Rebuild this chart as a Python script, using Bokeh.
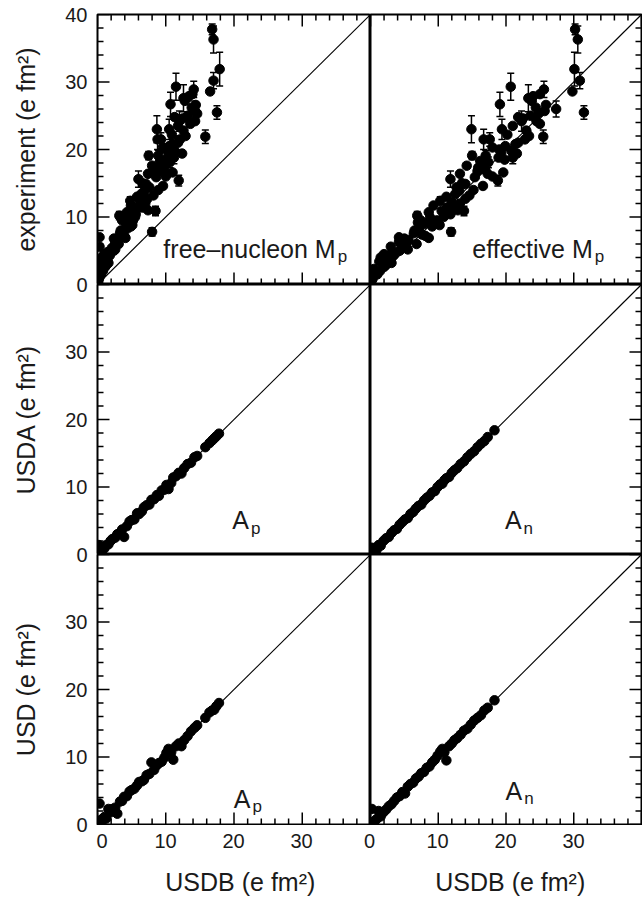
import math
from bokeh.plotting import figure
from bokeh.layouts import row, column
from bokeh.models import (Range1d, LinearAxis, FixedTicker, Label, Whisker,
                          ColumnDataSource, TeeHead)
from bokeh.embed import file_html
from bokeh.resources import INLINE

# ---------------- data ----------------
exp_val = [0.3, 0.8, 1.1, 1.5, 1.7, 2.0, 2.3, 2.6, 2.9, 3.2, 3.4, 3.8, 4.0, 4.3, 4.8, 5.0, 5.4,
           7.0, 5.6, 5.9, 6.3, 6.6, 6.9, 7.2, 7.6, 7.8, 8.0, 8.3, 8.6, 9.0, 9.5, 9.5, 9.9,
           10.2, 10.4, 10.7, 10.9, 10.9, 11.4, 11.4, 11.7, 12.2, 12.4, 12.7, 13.0, 13.4, 13.9,
           14.4, 14.9, 15.0, 15.4, 15.6, 15.9, 16.4, 16.4, 16.8, 17.3, 17.6, 17.6, 18.1, 18.3,
           18.8, 18.8, 19.1, 19.1, 19.5, 19.8, 20.3, 20.5, 21.0, 21.5, 21.5, 21.5, 21.9, 22.2,
           22.8, 23.0, 23.0, 23.5, 24.2, 24.2, 24.6, 25.0, 25.5, 25.7, 26.0, 26.2, 26.7, 27.2,
           27.6, 27.9, 28.2, 28.6, 28.9, 29.3, 30.2, 31.9, 36.3, 37.8,
           4.5, 5.2, 6.0, 6.8, 7.4, 8.8, 9.2, 10.0, 11.0, 12.0, 13.2, 14.0, 14.6,
           16.0, 16.6, 17.0, 18.5, 19.4, 20.0, 20.8, 22.0, 23.8, 24.8, 25.3, 26.6]
exp_err = [0, 0, 0, 0, 0, 0, 0, 0, 0, 0, 0, 0, 0, 0, 0, 0, 0,
           0, 0, 0, 0, 0, 0, 0, 0, 0.6, 0, 0, 0, 0, 0, 0, 0,
           0.6, 0, 0, 0.7, 0, 0, 0, 0, 0, 0.6, 0, 0, 0, 0,
           0, 0, 0.5, 0.8, 1.2, 0, 0, 0, 0, 0, 0, 0, 0.8, 0,
           0.9, 0, 0.6, 0.8, 0, 0, 0, 0, 0, 1.5, 1.0, 0, 1.0, 0,
           0, 2.0, 1.5, 0, 1.5, 0, 0, 0, 1.0, 0, 1.2, 0, 1.8, 0,
           2.0, 0, 0, 0, 1.2, 2.0, 1.2, 2.5, 2.0, 0.8,
           0, 0, 0, 0, 0, 0, 0, 0, 0, 0, 0, 0, 0,
           0, 0, 0, 0, 0, 0, 0, 0, 0, 0, 0, 0]
usdb_eff = [0.1, 0.3, 0.2, 1.0, 0.6, 1.4, 0.5, 2.0, 2.3, 3.1, 1.3, 2.7, 1.5, 3.4, 3.2, 4.3, 4.6,
            4.2, 3.0, 5.2, 4.2, 5.6, 8.6, 8.1, 6.4, 11.9, 6.5, 7.2, 9.1, 8.0, 7.4, 9.8, 8.8,
            6.9, 11.8, 8.6, 13.8, 10.5, 11.3, 12.3, 9.3, 12.0, 10.3, 14.0, 11.2, 12.5, 13.1,
            12.7, 14.0, 13.5, 18.8, 11.8, 15.4, 13.2, 17.3, 15.8, 15.9, 14.2, 16.5, 17.4, 16.2,
            21.0, 18.9, 15.0, 17.0, 19.3, 20.8, 18.0, 19.9, 21.8, 16.7, 17.6, 22.8, 25.5, 20.2,
            23.0, 14.9, 19.4, 21.0, 22.3, 24.5, 22.5, 23.6, 31.5, 25.7, 27.4, 24.4, 19.1, 23.8,
            23.3, 24.0, 25.0, 29.8, 25.6, 20.7, 30.9, 30.1, 30.6, 30.2,
            2.0, 5.5, 6.8, 5.0, 7.6, 10.2, 7.0, 10.8, 12.9, 13.2, 14.6, 15.2, 16.6,
            18.0, 19.6, 16.9, 19.8, 21.6, 19.0, 21.4, 23.4, 25.0, 21.8, 24.8, 25.9]
usdb_free = [0.1, 0.2, 0.3, 0.5, 0.2, 0.8, 0.1, 1.1, 1.3, 1.6, 0.4, 1.2, 0.6, 1.8, 1.5, 2.4, 2.1,
             0.3, 0.3, 2.8, 2.6, 3.0, 4.1, 3.9, 3.3, 8.0, 3.4, 4.4, 4.9, 4.2, 3.6, 5.2, 4.6,
             3.2, 5.6, 4.3, 8.5, 5.4, 6.0, 6.6, 4.9, 6.2, 4.8, 7.3, 5.8, 6.4, 6.9,
             7.6, 7.1, 6.6, 11.9, 6.0, 8.6, 7.4, 10.2, 9.4, 9.0, 8.0, 9.9, 10.6, 9.2,
             11.2, 10.3, 7.5, 8.9, 10.9, 11.3, 9.6, 10.5, 11.8, 8.8, 9.3, 12.1, 15.8, 10.9,
             12.6, 8.7, 10.5, 11.8, 12.0, 14.3, 12.5, 13.2, 17.5, 14.3, 14.0, 13.8, 10.7, 12.8,
             12.6, 13.4, 13.9, 16.5, 14.1, 11.5, 17.0, 17.9, 17.0, 16.8,
             1.0, 2.6, 3.1, 2.4, 3.6, 5.1, 4.8, 5.5, 7.4, 7.0, 8.2, 8.9, 9.6,
             10.0, 11.0, 8.4, 10.1, 12.4, 9.9, 11.0, 12.9, 13.6, 11.3, 14.6, 14.4]

usdb_ap = [0.1, 0.2, 0.3, 0.4, 0.6, 0.8, 1.0, 1.3, 1.6, 1.9, 2.2, 2.6, 2.9, 3.3, 3.6, 3.9, 4.3,
           4.7, 5.0, 5.4, 5.8, 6.1, 6.5, 6.8, 7.2, 7.6, 7.9, 8.3, 8.7, 9.0, 9.4, 9.8, 10.1,
           10.4, 10.8, 11.1, 11.5, 11.9, 12.3, 12.7, 13.2, 13.7, 14.2, 14.6, 15.8, 16.4, 16.8,
           17.1, 17.4, 17.8]
usda_ap = [0.0, 1.4, 0.3, 1.2, 0.5, 1.0, 0.9, 1.4, 1.5, 2.0, 2.3, 2.5, 3.0, 3.2, 3.7, 2.6, 4.2,
           4.9, 5.1, 5.2, 6.1, 6.0, 6.4, 7.0, 7.3, 7.4, 8.1, 8.2, 8.8, 8.7, 9.5, 9.6, 10.3,
           9.7, 10.6, 11.4, 11.6, 12.1, 12.0, 12.8, 13.4, 13.6, 14.4, 14.6, 15.9, 16.5, 16.9,
           17.2, 17.5, 17.9]
usd_ap = [0.2, 0.0, 3.1, 0.6, 0.4, 0.9, 1.1, 0.9, 2.3, 1.8, 2.3, 2.5, 1.6, 3.4, 3.5, 4.1, 4.2,
          4.9, 5.1, 5.3, 5.8, 6.3, 6.4, 6.6, 7.3, 7.5, 9.2, 8.1, 8.8, 9.1, 9.3, 9.9, 10.6,
          11.2, 10.7, 9.6, 11.6, 12.0, 11.6, 12.5, 13.1, 13.8, 14.3, 14.7, 15.8, 16.6, 16.9,
          17.0, 17.5, 18.0]

usdb_an = [0.1, 0.2, 0.4, 0.6, 0.9, 1.2, 1.5, 1.9, 2.3, 2.7, 3.1, 3.5, 3.9, 4.3, 4.7, 5.1,
           5.5, 5.9, 6.3, 6.7, 7.1, 7.5, 7.9, 8.3, 8.7, 9.1, 9.5, 9.9, 10.3, 10.6, 10.9, 11.2,
           11.6, 12.0, 12.4, 12.8, 13.3, 13.8, 14.3, 14.8, 15.3, 15.8, 16.3, 16.8, 17.3, 18.3]
usda_an = [0.0, 1.0, 0.6, 0.9, 0.7, 1.4, 1.3, 2.0, 2.4, 2.6, 3.2, 3.6, 3.8, 4.4, 4.8, 5.2,
           5.4, 6.0, 6.3, 6.8, 7.2, 7.4, 8.0, 8.4, 8.7, 9.2, 9.4, 10.0, 10.4, 10.5, 11.0, 11.3,
           11.5, 12.1, 12.5, 12.8, 13.4, 13.8, 14.4, 14.9, 15.3, 15.9, 16.4, 16.8, 17.4, 18.4]
usd_an = [0.0, 2.3, 0.3, 0.5, 0.8, 2.0, 1.2, 1.8, 2.2, 2.7, 3.0, 3.5, 4.0, 4.2, 4.8, 4.6,
          5.6, 6.0, 6.2, 6.8, 7.1, 7.6, 7.8, 8.4, 8.6, 9.2, 9.6, 10.2, 10.8, 11.2, 10.7, 9.5,
          11.6, 12.0, 12.5, 12.8, 13.3, 13.9, 14.2, 14.8, 15.4, 15.8, 16.2, 16.9, 17.3, 18.4]

diag = [0, 40]
major_ticks = [0, 10, 20, 30, 40]
minor_ticks = [2, 4, 6, 8, 12, 14, 16, 18, 22, 24, 26, 28, 32, 34, 36, 38]

# tick labels of the three stacked panels (left) and two side-by-side panels (bottom)
y_tick_labels_top = ["0", "10", "20", "30", "40"]
y_tick_labels_low = ["0", "10", "20", "30"]
x_tick_labels = ["0", "10", "20", "30"]

y_titles = ["experiment (e fm²)", "USDA (e fm²)", "USD (e fm²)"]
x_title = "USDB (e fm²)"

FONT = "Liberation Sans"
TXT = "#1a1a1a"
LW_FRAME = 2

# ---------------- layout sizes (page has no margin) ----------------
T_W = 50            # strip holding the y titles
L_W = 46            # strip holding the y tick labels
TOP_B = 14
FRAME_H = 270
LEFT_FW = 273
RIGHT_FW = 271
B_H = 38            # strip holding the x tick labels
BT_H = 40           # strip holding the x titles
PAGE_H = TOP_B + 3 * FRAME_H + 1 + B_H + BT_H
BOT_B = 1 + B_H + BT_H


def make_panel(col, r):
    fw = LEFT_FW if col == 0 else RIGHT_FW
    mbl = 1 if col == 0 else 0
    mbr = 1 if col == 1 else 0
    mbt = TOP_B if r == 0 else 0
    mbb = 1 if r == 2 else 0
    p = figure(width=fw + mbl + mbr, height=FRAME_H + mbt + mbb,
               x_range=Range1d(0, 40), y_range=Range1d(0, 40),
               x_axis_type=None, y_axis_type=None,
               output_backend="svg", toolbar_location=None,
               min_border_left=mbl, min_border_right=mbr,
               min_border_top=mbt, min_border_bottom=mbb)
    p.outline_line_color = "black"
    p.outline_line_width = LW_FRAME
    p.background_fill_color = "white"
    p.border_fill_color = "white"
    p.line(diag, diag, line_color="black", line_width=1.2)
    return p


def add_ticks(p, side):
    for tv, ln in ((major_ticks, 12), (minor_ticks, 6)):
        n = len(tv)
        if side == "left":
            xs, ys, ang = [0] * n, tv, 0.0
        elif side == "right":
            xs, ys, ang = [40] * n, tv, math.pi
        elif side == "below":
            xs, ys, ang = tv, [0] * n, math.pi / 2
        else:
            xs, ys, ang = tv, [40] * n, -math.pi / 2
        p.ray(x=xs, y=ys, length=ln, angle=ang, length_units="screen",
              line_color="black", line_width=1.5)


def add_label(p, x, y, main, sub):
    p.add_layout(Label(x=x, y=y, text=main, text_align="right",
                       text_baseline="alphabetic", text_font=FONT,
                       text_font_size="25px", text_color=TXT))
    p.add_layout(Label(x=x, y=y, text=sub, text_align="left",
                       text_baseline="alphabetic", text_font=FONT,
                       text_font_size="17px", text_color=TXT,
                       x_offset=2, y_offset=-8))


def add_exp(p, xs):
    xe = [x for x, e in zip(xs, exp_err) if e > 0]
    up = [v + e for v, e in zip(exp_val, exp_err) if e > 0]
    lo = [v - e for v, e in zip(exp_val, exp_err) if e > 0]
    src = ColumnDataSource(dict(x=xe, upper=up, lower=lo))
    w = Whisker(source=src, base="x", upper="upper", lower="lower",
                dimension="height", line_color="black", line_width=1.5,
                upper_head=TeeHead(size=7, line_color="black", line_width=1.5),
                lower_head=TeeHead(size=7, line_color="black", line_width=1.5))
    p.add_layout(w)
    p.scatter(xs, exp_val, size=9.5, color="black")


def style_label_axis(ax):
    ax.major_tick_in = 0
    ax.major_tick_out = 0
    ax.minor_tick_in = 0
    ax.minor_tick_out = 0
    ax.axis_line_color = None
    ax.major_label_text_font = FONT
    ax.major_label_text_font_size = "20px"
    ax.major_label_text_color = TXT


def strip(width, height, xr, yr, mbl, mbr, mbt, mbb):
    f = figure(width=width, height=height, x_range=xr, y_range=yr,
               x_axis_type=None, y_axis_type=None,
               output_backend="svg", toolbar_location=None,
               min_border_left=mbl, min_border_right=mbr,
               min_border_top=mbt, min_border_bottom=mbb)
    f.outline_line_color = None
    return f


panels = [[make_panel(c, r) for c in range(2)] for r in range(3)]

# row 0: experiment
p = panels[0][0]
add_exp(p, usdb_free)
for s in ("left", "above", "below"):
    add_ticks(p, s)
add_label(p, 34.9, 5.3, "free–nucleon M", "p")

p = panels[0][1]
add_exp(p, usdb_eff)
for s in ("right", "above", "below"):
    add_ticks(p, s)
add_label(p, 32.8, 5.3, "effective M", "p")

# row 1: USDA
p = panels[1][0]
p.scatter(usdb_ap, usda_ap, size=9.5, color="black")
add_ticks(p, "left")
add_label(p, 22.2, 5.1, "A", "p")

p = panels[1][1]
p.scatter(usdb_an, usda_an, size=9.5, color="black")
add_ticks(p, "right")
add_label(p, 22.3, 5.1, "A", "n")

# row 2: USD
p = panels[2][0]
p.scatter(usdb_ap, usd_ap, size=9.5, color="black")
add_ticks(p, "left")
add_ticks(p, "below")
add_label(p, 22.4, 3.85, "A", "p")

p = panels[2][1]
p.scatter(usdb_an, usd_an, size=9.5, color="black")
add_ticks(p, "right")
add_ticks(p, "below")
add_label(p, 22.4, 5.0, "A", "n")

# ---------------- left strips: y titles, then y tick labels ----------------
Tf = strip(T_W, PAGE_H, Range1d(0, 1), Range1d(0, 120), 0, 0, TOP_B, BOT_B)
for r, title in enumerate(y_titles):
    Tf.add_layout(Label(x=0.5, y=100 - 40 * r, angle=math.pi / 2,
                        text=title, text_align="center", text_baseline="middle",
                        text_font=FONT, text_font_size="25px", text_color=TXT))

y_pos, y_lab = [], []
for r, labs in enumerate([y_tick_labels_low, y_tick_labels_low, y_tick_labels_top]):
    for i, t in enumerate(labs):
        y_pos.append(40 * r + 10 * i)
        y_lab.append(t)
Lf = strip(L_W, PAGE_H, Range1d(0, 1), Range1d(0, 120), L_W - 1, 0, TOP_B, BOT_B)
lax = LinearAxis(ticker=FixedTicker(ticks=y_pos, minor_ticks=[]),
                 major_label_overrides={float(v): t for v, t in zip(y_pos, y_lab)})
style_label_axis(lax)
lax.major_label_standoff = 8
Lf.add_layout(lax, "left")

# ---------------- bottom strips: x tick labels, then x titles ----------------
x_pos, x_lab = [], []
for c in range(2):
    for i, t in enumerate(x_tick_labels):
        x_pos.append(40 * c + 10 * i)
        x_lab.append(t)
BW = LEFT_FW + RIGHT_FW + 2
Bf = strip(BW, B_H, Range1d(0, 80), Range1d(0, 1), 1, 1, 0, B_H - 1)
bax = LinearAxis(ticker=FixedTicker(ticks=x_pos, minor_ticks=[]),
                 major_label_overrides={float(v): t for v, t in zip(x_pos, x_lab)})
style_label_axis(bax)
bax.major_label_standoff = 7
Bf.add_layout(bax, "below")

BTf = strip(BW, BT_H, Range1d(0, 80), Range1d(0, 1), 1, 1, 0, 0)
for xc in (21.0, 60.7):
    BTf.add_layout(Label(x=xc, y=0.55, text=x_title,
                         text_align="center", text_baseline="middle",
                         text_font=FONT, text_font_size="25px", text_color=TXT))

layout = row(Tf, Lf, column(row(panels[0][0], panels[0][1]),
                            row(panels[1][0], panels[1][1]),
                            row(panels[2][0], panels[2][1]),
                            Bf, BTf))

open("out.html", "w").write(file_html(layout, INLINE))
